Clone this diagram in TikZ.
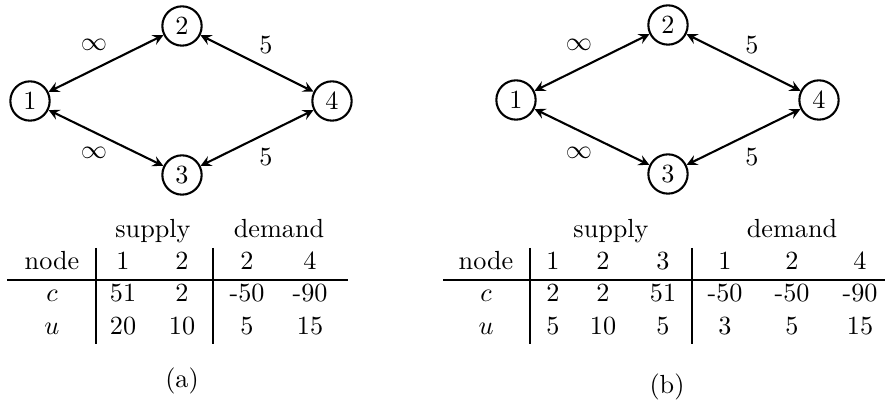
\documentclass[tikz,border=0pt]{standalone}
\usetikzlibrary{positioning}
\tikzset{
  vertex/.style={circle,draw,thick,minimum size=15pt,inner sep=0pt},
  flow/.style={<->,>=stealth,thick},
  cell/.style={anchor=base,inner sep=0pt},
  rule/.style={line width=0.8pt}
}
\begin{document}
\begin{tikzpicture}[x=0.01342cm,y=-0.01342cm]
\useasboundingbox (0,0) rectangle (885,406);

% network (a)
\node[vertex] (a1) at (30,101) {1};
\node[vertex] (a2) at (182,26) {2};
\node[vertex] (a3) at (182,175) {3};
\node[vertex] (a4) at (332,101) {4};
\draw[flow] (a1) -- (a2);
\draw[flow] (a1) -- (a3);
\draw[flow] (a2) -- (a4);
\draw[flow] (a3) -- (a4);
\node (ainfup) at (94,45) {$\infty$};
\node (ainfdn) at (94,153) {$\infty$};
\node (afiveup) at (266,45) {5};
\node (afivedn) at (266,157) {5};

% table (a)
\node[cell] (asup) at (153,238) {supply};
\node[cell] (adem) at (279,238) {demand};
\node[cell] (anode) at (52,270) {node};
\node[cell] (an1) at (123,270) {1};
\node[cell] (an2) at (182,270) {2};
\node[cell] (an3) at (247,270) {2};
\node[cell] (an4) at (310,270) {4};
\node[cell] (ac) at (52,302) {$c$};
\node[cell] (ac1) at (123,302) {51};
\node[cell] (ac2) at (182,302) {2};
\node[cell] (ac3) at (247,302) {-50};
\node[cell] (ac4) at (310,302) {-90};
\node[cell] (au) at (52,335) {$u$};
\node[cell] (au1) at (123,335) {20};
\node[cell] (au2) at (182,335) {10};
\node[cell] (au3) at (247,335) {5};
\node[cell] (au4) at (310,335) {15};
\draw[rule] (7,280) -- (348,280);
\draw[rule] (96,248) -- (96,344);
\draw[rule] (213,248) -- (213,344);
\node[cell] (acap) at (182,388) {(a)};

% network (b)
\node[vertex] (b1) at (516,100) {1};
\node[vertex] (b2) at (668,25) {2};
\node[vertex] (b3) at (668,174) {3};
\node[vertex] (b4) at (819,100) {4};
\draw[flow] (b1) -- (b2);
\draw[flow] (b1) -- (b3);
\draw[flow] (b2) -- (b4);
\draw[flow] (b3) -- (b4);
\node (binfup) at (579,45) {$\infty$};
\node (binfdn) at (579,153) {$\infty$};
\node (bfiveup) at (752,45) {5};
\node (bfivedn) at (752,157) {5};

% table (b)
\node[cell] (bsup) at (611,238) {supply};
\node[cell] (bdem) at (792,238) {demand};
\node[cell] (bnode) at (486,270) {node};
\node[cell] (bn1) at (553,270) {1};
\node[cell] (bn2) at (603,270) {2};
\node[cell] (bn3) at (663,270) {3};
\node[cell] (bn4) at (725,270) {1};
\node[cell] (bn5) at (792,270) {2};
\node[cell] (bn6) at (860,270) {4};
\node[cell] (bc) at (486,302) {$c$};
\node[cell] (bc1) at (553,302) {2};
\node[cell] (bc2) at (603,302) {2};
\node[cell] (bc3) at (663,302) {51};
\node[cell] (bc4) at (725,302) {-50};
\node[cell] (bc5) at (792,302) {-50};
\node[cell] (bc6) at (860,302) {-90};
\node[cell] (bu) at (486,335) {$u$};
\node[cell] (bu1) at (553,335) {5};
\node[cell] (bu2) at (603,335) {10};
\node[cell] (bu3) at (663,335) {5};
\node[cell] (bu4) at (725,335) {3};
\node[cell] (bu5) at (792,335) {5};
\node[cell] (bu6) at (860,335) {15};
\draw[rule] (443,280) -- (885,280);
\draw[rule] (530,248) -- (530,344);
\draw[rule] (692,248) -- (692,344);
\node[cell] (bcap) at (667,394) {(b)};

\end{tikzpicture}
\end{document}
